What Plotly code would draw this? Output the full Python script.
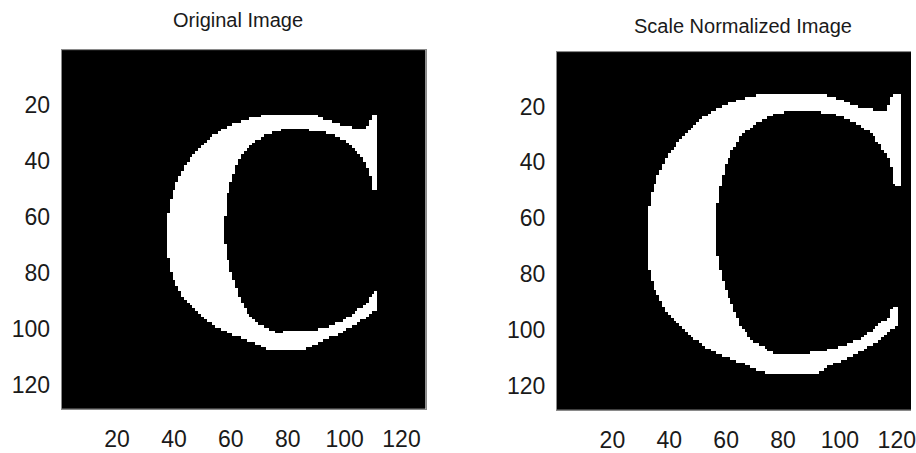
import numpy as np
import plotly.graph_objects as go

# Image size (pixels) and tick labels
IMG_SIZE = 128
TICKS = [20, 40, 60, 80, 100, 120]

# Outline of the glyph "C" in image pixel coordinates (column, row)
C_OUTLINE_X = [111.7, 111.7, 110.0, 109.4, 108.2, 105.9, 103.5, 100.0, 95.4, 90.1,
               80.2, 76.1, 71.5, 67.4, 64.5, 62.2, 60.4, 59.2, 58.1, 57.7,
               58.1, 59.2, 61.0, 62.7, 65.1, 68.6, 73.2, 75.6, 87.2, 94.2,
               100.0, 104.7, 108.2, 109.4, 111.1, 111.1, 109.4, 106.5, 102.4, 97.7,
               91.9, 86.6, 73.2, 66.2, 60.4, 54.6, 49.9, 46.4, 42.9, 40.6,
               38.8, 38.0, 37.7, 37.7, 38.3, 39.4, 41.2, 43.5, 46.4, 49.3,
               53.4, 56.9, 60.4, 65.1, 70.9, 89.5, 95.4, 100.0, 104.7, 107.6,
               109.4]
C_OUTLINE_Y = [23.5, 51.0, 51.0, 46.3, 42.8, 38.7, 35.8, 32.9, 30.6, 29.2,
               28.5, 29.4, 31.1, 34.1, 37.0, 41.1, 45.8, 50.4, 57.5, 66.0,
               70.9, 76.8, 82.6, 87.3, 93.1, 97.2, 100.1, 101.1, 100.7, 99.0,
               96.6, 93.1, 90.2, 87.3, 86.7, 93.1, 93.7, 96.6, 99.0, 101.9,
               104.2, 107.2, 107.2, 104.2, 101.9, 99.0, 95.5, 92.0, 87.9, 83.8,
               79.1, 74.4, 66.0, 59.8, 56.3, 51.6, 46.9, 42.3, 38.2, 34.7,
               31.1, 28.8, 27.0, 25.3, 23.8, 23.8, 25.9, 27.6, 28.5, 28.5,
               24.1]

# Scale factor applied by the normalisation step (about the image centre)
NORM_SCALE = 1.2


def rasterize(px, py, n):
    """Binary mask of pixel centres lying inside the polygon (even-odd rule)."""
    idx = np.arange(1, n + 1)
    X, Y = np.meshgrid(idx, idx)
    inside = np.zeros(X.shape, dtype=bool)
    m = len(px)
    for k in range(m):
        x1, y1 = px[k], py[k]
        x2, y2 = px[(k + 1) % m], py[(k + 1) % m]
        if y1 == y2:
            continue
        crosses = (y1 > Y) != (y2 > Y)
        x_at = x1 + (Y - y1) * (x2 - x1) / (y2 - y1)
        inside ^= crosses & (X < x_at)
    return inside.astype(int)


ox = np.array(C_OUTLINE_X)
oy = np.array(C_OUTLINE_Y)
original = rasterize(ox, oy, IMG_SIZE)

centre = (IMG_SIZE + 1) / 2
normalized = rasterize(centre + NORM_SCALE * (ox - centre),
                       centre + NORM_SCALE * (oy - centre), IMG_SIZE)

pix = np.arange(1, IMG_SIZE + 1)
gray = [[0, "black"], [1, "white"]]

fig = go.Figure()
fig.add_trace(go.Heatmap(z=original, x=pix, y=pix, colorscale=gray, zmin=0, zmax=1,
                         showscale=False, xaxis="x", yaxis="y", hoverinfo="skip"))
fig.add_trace(go.Heatmap(z=normalized, x=pix, y=pix, colorscale=gray, zmin=0, zmax=1,
                         showscale=False, xaxis="x2", yaxis="y2", hoverinfo="skip"))

W, H = 916, 453
px_per_unit = (428 - 62) / IMG_SIZE
right_end = 0.5 + (W - 560) / px_per_unit

font_family = "Liberation Sans, Arial, sans-serif"
tick_font = dict(family=font_family, size=23, color="#1a1a1a")
line_col = "#8a8a8a"

common_x = dict(tickvals=TICKS, ticks="", showgrid=False, zeroline=False,
                showline=True, linecolor=line_col, linewidth=1, mirror=True,
                tickfont=tick_font, ticklabelstandoff=10, ticklabeloverflow="allow")
common_y = dict(tickvals=TICKS, ticks="", showgrid=False, zeroline=False,
                showline=True, linecolor=line_col, linewidth=1,
                tickfont=tick_font, ticklabelstandoff=6)

fig.update_layout(
    width=W, height=H,
    margin=dict(l=0, r=0, t=0, b=0),
    paper_bgcolor="white", plot_bgcolor="white",
    xaxis=dict(domain=[62 / W, 428 / W], range=[0.5, IMG_SIZE + 0.5], anchor="y",
               **common_x),
    yaxis=dict(domain=[1 - 416 / H, 1 - 51 / H], range=[IMG_SIZE + 0.5, 0.5], anchor="x",
               mirror=True, **common_y),
    xaxis2=dict(domain=[560 / W, 1.0], range=[0.5, right_end], anchor="y2",
                **common_x),
    yaxis2=dict(domain=[1 - 417 / H, 1 - 53 / H], range=[IMG_SIZE + 0.5, 0.5], anchor="x2",
                mirror=False, **common_y),
    annotations=[
        dict(text="Original Image", x=239 / W, y=1 - 20 / H, xref="paper", yref="paper",
             xanchor="center", yanchor="middle", showarrow=False,
             font=dict(family=font_family, size=20, color="#1a1a1a")),
        dict(text="Scale Normalized Image", x=747 / W, y=1 - 26 / H, xref="paper", yref="paper",
             xanchor="center", yanchor="middle", showarrow=False,
             font=dict(family=font_family, size=20, color="#1a1a1a")),
    ],
)

fig.write_html("out.html")
